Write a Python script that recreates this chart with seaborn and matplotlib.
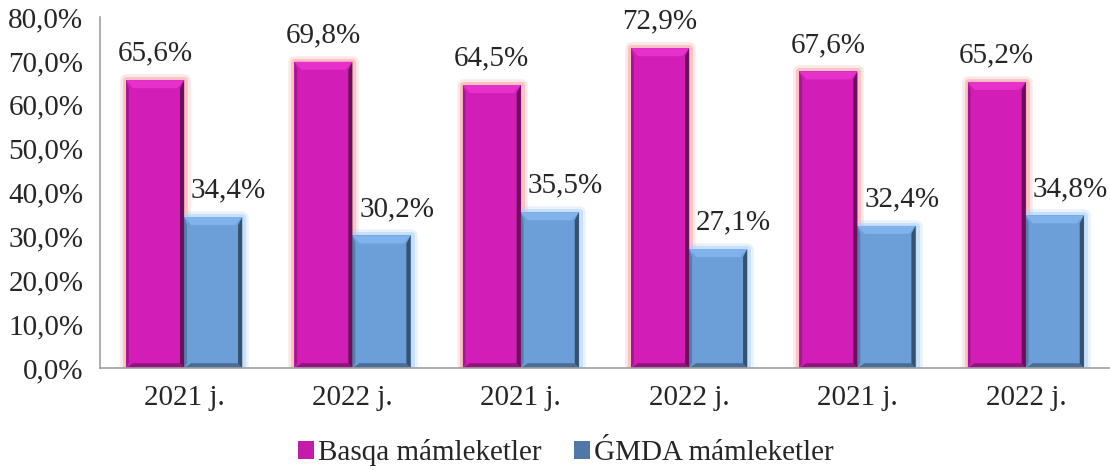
import numpy as np
import pandas as pd
import matplotlib
matplotlib.use("Agg")
import matplotlib.pyplot as plt
import matplotlib.patheffects as pe
from matplotlib.patches import Patch, Polygon, Rectangle
import seaborn as sns

# chart data
years = ["2021 j.", "2022 j.", "2021 j.", "2022 j.", "2021 j.", "2022 j."]
basqa = [65.6, 69.8, 64.5, 72.9, 67.6, 65.2]
gmda = [34.4, 30.2, 35.5, 27.1, 32.4, 34.8]
series = ["Basqa mámleketler", "\u01F4MDA mámleketler"]
colors = ["#D21EB7", "#6C9FD8"]
glow = ["#F6A0A0", "#A9CFF5"]
label_dx = [0, 11]  # blue labels sit a bit to the right

sns.set_style("white")
plt.rcParams["font.family"] = ["Liberation Serif", "DejaVu Serif"]
FS = 21

df = pd.DataFrame({
    "pos": list(range(len(years))) * 2,
    "val": basqa + gmda,
    "series": [series[0]] * len(years) + [series[1]] * len(years),
})

fig = plt.figure(figsize=(11.1, 4.7), dpi=100)
ax = fig.add_axes([100 / 1110, 1 - 368 / 470, 1010 / 1110, 351 / 470])

sns.barplot(data=df, x="pos", y="val", hue="series", hue_order=series,
            palette=colors, width=0.69, dodge=True, saturation=1,
            legend=False, ax=ax, zorder=2)

dy = 80 * 8 / 351
for container, gc, vals, ldx in zip(ax.containers, glow, [basqa, gmda], label_dx):
    for bar, v in zip(container, vals):
        bar.set_edgecolor("none")
        x0, y0 = bar.get_x(), bar.get_y()
        w, h = bar.get_width(), bar.get_height()
        # soft glow behind the bar
        g = Rectangle((x0, y0), w, h, facecolor=gc, edgecolor="none", zorder=1)
        g.set_path_effects([
            pe.Stroke(linewidth=9, foreground=gc, alpha=0.25, joinstyle="round"),
            pe.Stroke(linewidth=5, foreground=gc, alpha=0.5, joinstyle="round"),
            pe.Normal(),
        ])
        ax.add_patch(g)
        # bevel
        dx = w * 0.12
        face = np.array(matplotlib.colors.to_rgb(bar.get_facecolor()))
        light = np.clip(face + 0.08, 0, 1)
        dark = face * 0.3
        ax.add_patch(Polygon([[x0, y0 + h], [x0 + w, y0 + h], [x0 + w - dx, y0 + h - dy],
                              [x0 + dx, y0 + h - dy]], closed=True, color=light, zorder=3, lw=0))
        ax.add_patch(Polygon([[x0 + w, y0 + h], [x0 + w, y0], [x0 + w - dx * 0.6, y0 + dy * 0.6],
                              [x0 + w - dx * 0.6, y0 + h - dy]], closed=True, color=dark, alpha=0.7, zorder=3, lw=0))
        ax.add_patch(Polygon([[x0, y0], [x0 + w, y0], [x0 + w - dx * 0.6, y0 + dy * 0.6],
                              [x0 + dx, y0 + dy * 0.6]], closed=True, color=dark, alpha=0.45, zorder=3, lw=0))
        ax.add_patch(Polygon([[x0, y0 + h], [x0 + dx * 0.4, y0 + h - dy], [x0 + dx * 0.4, y0 + dy * 0.6],
                              [x0, y0]], closed=True, color=dark, alpha=0.3, zorder=3, lw=0))
        ax.annotate(f"{v:.1f}%".replace(".", ","), (x0 + w / 2, y0 + h),
                    xytext=(ldx, 19), textcoords="offset points", ha="center", va="center",
                    fontsize=FS, zorder=5)

ax.set_xlim(-0.5, -0.5 + 1010 / 169)
ax.set_ylim(0, 80)
ax.set_yticks(np.arange(0, 81, 10))
ax.set_yticklabels([f"{t:.1f}%".replace(".", ",") for t in np.arange(0, 81, 10)])
ax.set_xticks(range(len(years)))
ax.set_xticklabels(years)
ax.set_xticks(np.arange(-0.5, len(years), 1), minor=True)
ax.tick_params(axis="x", which="major", length=0, labelsize=FS, pad=12)
ax.tick_params(axis="x", which="minor", length=7, color="#a0a0a0", width=1.2, direction="out")
ax.tick_params(axis="y", length=7, color="#a0a0a0", width=1.2, labelsize=FS, pad=5, direction="out")
ax.set_xlabel("")
ax.set_ylabel("")
for s in ["top", "right"]:
    ax.spines[s].set_visible(False)
for s in ["left", "bottom"]:
    ax.spines[s].set_color("#a0a0a0")
    ax.spines[s].set_linewidth(1.2)
    ax.spines[s].set_zorder(4)

handles = [Patch(facecolor=c, edgecolor="none") for c in ["#C41BAB", "#4F78A8"]]
fig.legend(handles, series, loc="center", bbox_to_anchor=(0.51, 1 - 453 / 470), ncol=2,
           frameon=False, fontsize=FS, handlelength=0.55, handleheight=0.55,
           handletextpad=0.15, columnspacing=1.1)

fig.savefig("out.png", dpi=100)
